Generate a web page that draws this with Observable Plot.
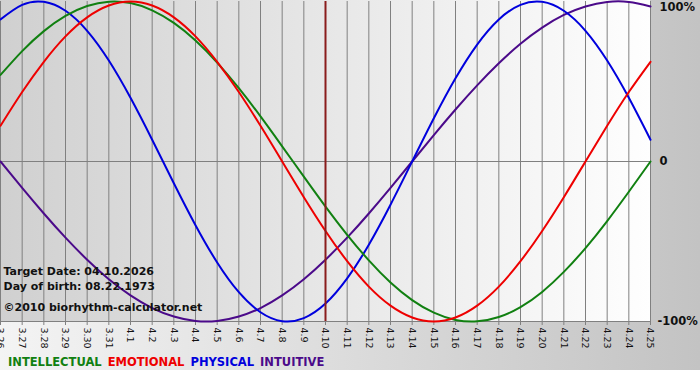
<!DOCTYPE html>
<html><head><meta charset="utf-8">
<script src="https://cdn.jsdelivr.net/npm/d3@7"></script>
<script src="https://cdn.jsdelivr.net/npm/@observablehq/plot@0.6"></script>
<style>
body{margin:0;background:#fff;font-family:"DejaVu Sans",Verdana,sans-serif;}
#chart{width:700px;}
#legend{width:700px;height:20px;background:linear-gradient(to right,#f4f4f4,#c3c3c3);font:bold 11.5px "DejaVu Sans",sans-serif;padding-left:8px;box-sizing:border-box;line-height:24px;overflow:hidden;white-space:nowrap;}
#legend span{margin-right:6px}
</style></head><body>
<div id="chart"></div>
<div id="legend"></div>
<script>
// ---- data ----
const dayLabels = ["3.26","3.27","3.28","3.29","3.30","3.31","4.1","4.2","4.3","4.4","4.5","4.6","4.7","4.8","4.9","4.10","4.11","4.12","4.13","4.14","4.15","4.16","4.17","4.18","4.19","4.20","4.21","4.22","4.23","4.24","4.25"];
const intellectual = [54.1,69.0,81.5,91.0,97.2,99.9,99.0,94.5,86.6,75.6,61.8,45.8,28.2,9.5,-9.5,-28.2,-45.8,-61.8,-75.6,-86.6,-94.5,-99.0,-99.9,-97.2,-91.0,-81.5,-69.0,-54.1,-37.2,-18.9,0];
const emotional = [22.3,43.4,62.3,78.2,90.1,97.5,100,97.5,90.1,78.2,62.3,43.4,22.3,0,-22.3,-43.4,-62.3,-78.2,-90.1,-97.5,-100,-97.5,-90.1,-78.2,-62.3,-43.4,-22.3,0,22.3,43.4,62.3];
const physical = [88.8,97.9,99.8,94.2,81.7,63.1,39.8,13.6,-13.6,-39.8,-63.1,-81.7,-94.2,-99.8,-97.9,-88.8,-73.1,-52.0,-27.0,0,27.0,52.0,73.1,88.8,97.9,99.8,94.2,81.7,63.1,39.8,13.6];
const intuitive = [0,-16.5,-32.5,-47.6,-61.4,-73.6,-83.7,-91.6,-96.9,-99.7,-99.7,-96.9,-91.6,-83.7,-73.6,-61.4,-47.6,-32.5,-16.5,0,16.5,32.5,47.6,61.4,73.6,83.7,91.6,96.9,99.7,99.7,96.9];
const seriesNames = ["INTELLECTUAL","EMOTIONAL","PHYSICAL","INTUITIVE"];
const seriesColors = ["#118011","#ee0000","#0000dd","#4b0a8a"];
const targetIndex = 15; // 4.10
const yTickValues = [100, 0, -100];
const yTickLabels = ["100%", "0", "-100%"];
const notes = ["Target Date: 04.10.2026", "Day of birth: 08.22.1973", "\u00A92010 biorhythm-calculator.net"];

// ---- chart ----
const idx = d3.range(dayLabels.length);
const rows = vals => vals.map((v, i) => ({i, v}));
const seriesValues = [intellectual, emotional, physical, intuitive];

const background = (I, scales, values, dims) => {
  const g = d3.create("svg:g");
  const grad = g.append("defs").append("linearGradient")
    .attr("id", "plotbg").attr("x1", "0").attr("x2", "1").attr("y1", "0").attr("y2", "0");
  grad.append("stop").attr("offset", "0").attr("stop-color", "#d0d0d0");
  grad.append("stop").attr("offset", "1").attr("stop-color", "#fefefe");
  g.append("rect")
    .attr("x", dims.marginLeft).attr("y", 0)
    .attr("width", dims.width - dims.marginLeft - dims.marginRight)
    .attr("height", dims.height - dims.marginBottom)
    .attr("fill", "url(#plotbg)");
  return g.node();
};

const font = "DejaVu Sans, Verdana, sans-serif";
const lineOrder = [3, 2, 0, 1];
const yLabelStyle = {frameAnchor: "right", textAnchor: "start", fontSize: 11.5, fontWeight: "bold", fill: "#111"};

const chart = Plot.plot({
  width: 700,
  height: 350,
  marginLeft: 0,
  marginRight: 50,
  marginTop: 1,
  marginBottom: 29,
  x: {domain: [0, dayLabels.length - 1]},
  y: {domain: [-100, 100], axis: null},
  style: {background: "linear-gradient(to right,#f4f4f4,#c3c3c3)", fontFamily: font, overflow: "visible"},
  marks: [
    background,
    Plot.ruleX(idx, {x: d => d, y1: -100, y2: 100, stroke: "#808080", strokeWidth: 1, strokeOpacity: 1}),
    Plot.ruleY([0, -100], {stroke: "#808080", strokeWidth: 1, strokeOpacity: 1}),
    Plot.axisX({ticks: idx, tickFormat: i => dayLabels[i], tickRotate: 90, tickSize: 4, tickPadding: 2,
      fontSize: 9.5, stroke: "#808080", fill: "#111", label: null}),
    ...lineOrder.map(k => Plot.lineY(rows(seriesValues[k]), {x: "i", y: "v", stroke: seriesColors[k], strokeWidth: 2, curve: "natural"})),
    Plot.ruleX([targetIndex], {x: d => d, y1: -100, y2: 100, stroke: "#8a1c1c", strokeWidth: 2}),
    Plot.text([yTickValues[0]], {...yLabelStyle, y: d => d, dx: 9, dy: 6, text: () => yTickLabels[0]}),
    Plot.text([yTickValues[1]], {...yLabelStyle, y: d => d, dx: 9, text: () => yTickLabels[1]}),
    Plot.text([yTickValues[2]], {...yLabelStyle, y: d => d, dx: 7, text: () => yTickLabels[2]}),
    Plot.text([notes[0]], {frameAnchor: "bottom-left", dx: 3, dy: -50, textAnchor: "start", lineAnchor: "middle", text: d => d, fontSize: 11, fontWeight: "bold", fill: "#111"}),
    Plot.text([notes[1]], {frameAnchor: "bottom-left", dx: 3, dy: -35, textAnchor: "start", lineAnchor: "middle", text: d => d, fontSize: 11, fontWeight: "bold", fill: "#111"}),
    Plot.text([notes[2]], {frameAnchor: "bottom-left", dx: 3, dy: -14, textAnchor: "start", lineAnchor: "middle", text: d => d, fontSize: 11, fontWeight: "bold", fill: "#111"})
  ]
});
document.getElementById("chart").append(chart);

const legend = document.getElementById("legend");
seriesNames.forEach((name, k) => {
  const s = document.createElement("span");
  s.textContent = name;
  s.style.color = seriesColors[k];
  legend.append(s);
});
</script>
</body></html>
